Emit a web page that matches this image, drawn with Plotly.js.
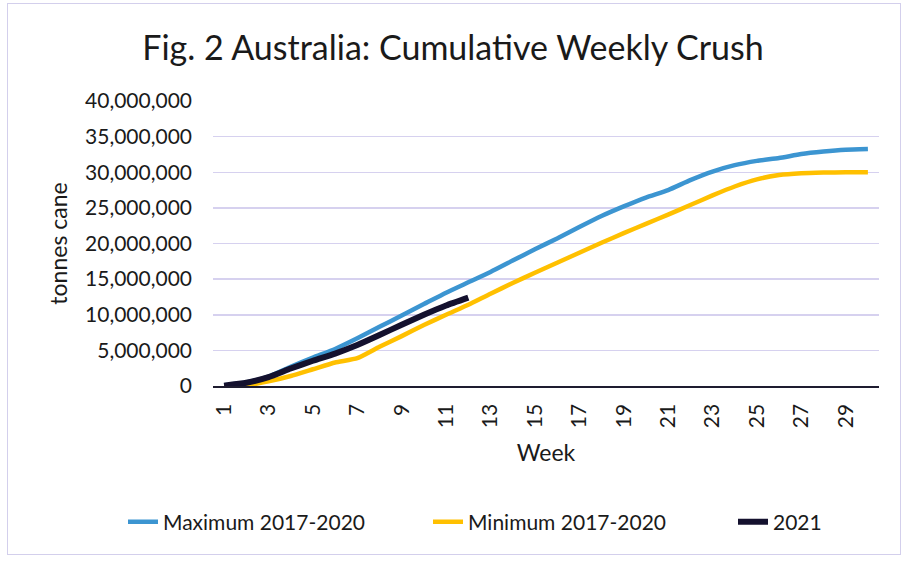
<!DOCTYPE html>
<html>
<head>
<meta charset="utf-8">
<script src="https://cdn.plot.ly/plotly-3.0.1.min.js"></script>
<style>
  html, body { margin: 0; padding: 0; background: #ffffff; }
  #wrap { position: relative; width: 906px; height: 562px; }
  #chart { width: 906px; height: 562px; }
  #frame { position: absolute; left: 7px; top: 3px; width: 894px; height: 552px;
           border: 1.5px solid #d3cfec; box-sizing: border-box; pointer-events: none; }
</style>
</head>
<body>
<div id="wrap"><div id="chart"></div><div id="frame"></div></div>
<script>
// Week categories
const weeks = ["1","2","3","4","5","6","7","8","9","10","11","12","13","14","15",
               "16","17","18","19","20","21","22","23","24","25","26","27","28","29","30"];

// Cumulative crush (tonnes cane)
const maximum2017_2020 = [100000, 500000, 1300000, 2700000, 4000000, 5200000, 6700000, 8300000,
  9900000, 11500000, 13100000, 14550000, 16000000, 17600000, 19200000, 20700000, 22300000,
  23850000, 25200000, 26450000, 27500000, 28900000, 30100000, 31000000, 31600000, 32000000,
  32550000, 32900000, 33150000, 33250000];

const minimum2017_2020 = [0, 100000, 650000, 1400000, 2350000, 3300000, 3900000, 5500000,
  7000000, 8550000, 10000000, 11400000, 12950000, 14450000, 15900000, 17300000, 18700000,
  20100000, 21450000, 22750000, 24050000, 25400000, 26750000, 28000000, 29000000, 29600000,
  29850000, 29950000, 30000000, 30000000];

const weeks2021 = ["1","2","3","4","5","6","7","8","9","10","11","12"];
const crush2021 = [50000, 450000, 1250000, 2450000, 3550000, 4550000, 5750000, 7150000,
  8600000, 10000000, 11300000, 12400000];

const seriesNames = ["Maximum 2017-2020", "Minimum 2017-2020", "2021"];
const seriesColors = ["#3c95d1", "#ffc000", "#14112e"];

const font = "Lato, 'Open Sans', sans-serif";

const traces = [
  { x: weeks, y: maximum2017_2020, name: seriesNames[0], type: "scatter", mode: "lines",
    legend: "legend",
    line: { color: seriesColors[0], width: 4.5, shape: "spline", smoothing: 0.5 } },
  { x: weeks, y: minimum2017_2020, name: seriesNames[1], type: "scatter", mode: "lines",
    legend: "legend2",
    line: { color: seriesColors[1], width: 4.5, shape: "spline", smoothing: 0.5 } },
  { x: weeks2021, y: crush2021, name: seriesNames[2], type: "scatter", mode: "lines",
    legend: "legend3",
    line: { color: seriesColors[2], width: 6, shape: "spline", smoothing: 0.5 } }
];

function legendAt(px) {
  return {
    orientation: "h", xref: "container", yref: "container",
    x: px / 906, xanchor: "left", y: 40 / 562, yanchor: "middle",
    font: { family: font, size: 21, color: "#1a1a1a" },
    bgcolor: "rgba(0,0,0,0)"
  };
}

const layout = {
  width: 906, height: 562,
  paper_bgcolor: "#ffffff", plot_bgcolor: "#ffffff",
  margin: { l: 213, r: 27, t: 101, b: 176, autoexpand: false },
  font: { family: font, color: "#1a1a1a", size: 20 },
  title: { text: "Fig. 2 Australia: Cumulative Weekly Crush",
           font: { family: font, size: 34, color: "#1a1a1a" },
           x: 0.5, xanchor: "center", y: 0.915, yanchor: "middle" },
  xaxis: {
    type: "category", categoryorder: "array", categoryarray: weeks,
    range: [-0.5, 29.5],
    tickmode: "array", tickvals: weeks.filter((w, i) => i % 2 === 0),
    ticktext: weeks.filter((w, i) => i % 2 === 0),
    tickangle: -90, tickfont: { family: font, size: 21, color: "#1a1a1a" },
    showgrid: false, zeroline: false,
    showline: true, linecolor: "#1e1c30", linewidth: 1.5,
    ticks: "", ticklabelstandoff: 8,
    title: { text: "Week", font: { family: font, size: 23, color: "#1a1a1a" }, standoff: 17 }
  },
  yaxis: {
    range: [0, 40000000], tickmode: "linear", tick0: 0, dtick: 5000000,
    tickformat: ",d", tickfont: { family: font, size: 21, color: "#1a1a1a" },
    showgrid: true, gridcolor: "#d6d1ef", gridwidth: 1.5,
    zeroline: false, showline: false, ticks: "", ticklabelstandoff: 20,
    title: { text: "tonnes cane", font: { family: font, size: 23, color: "#1a1a1a" }, standoff: 10 }
  },
  showlegend: true,
  legend: legendAt(123),
  legend2: legendAt(428),
  legend3: legendAt(733)
};

Plotly.newPlot("chart", traces, layout, { displayModeBar: false, staticPlot: true });
</script>
</body>
</html>
